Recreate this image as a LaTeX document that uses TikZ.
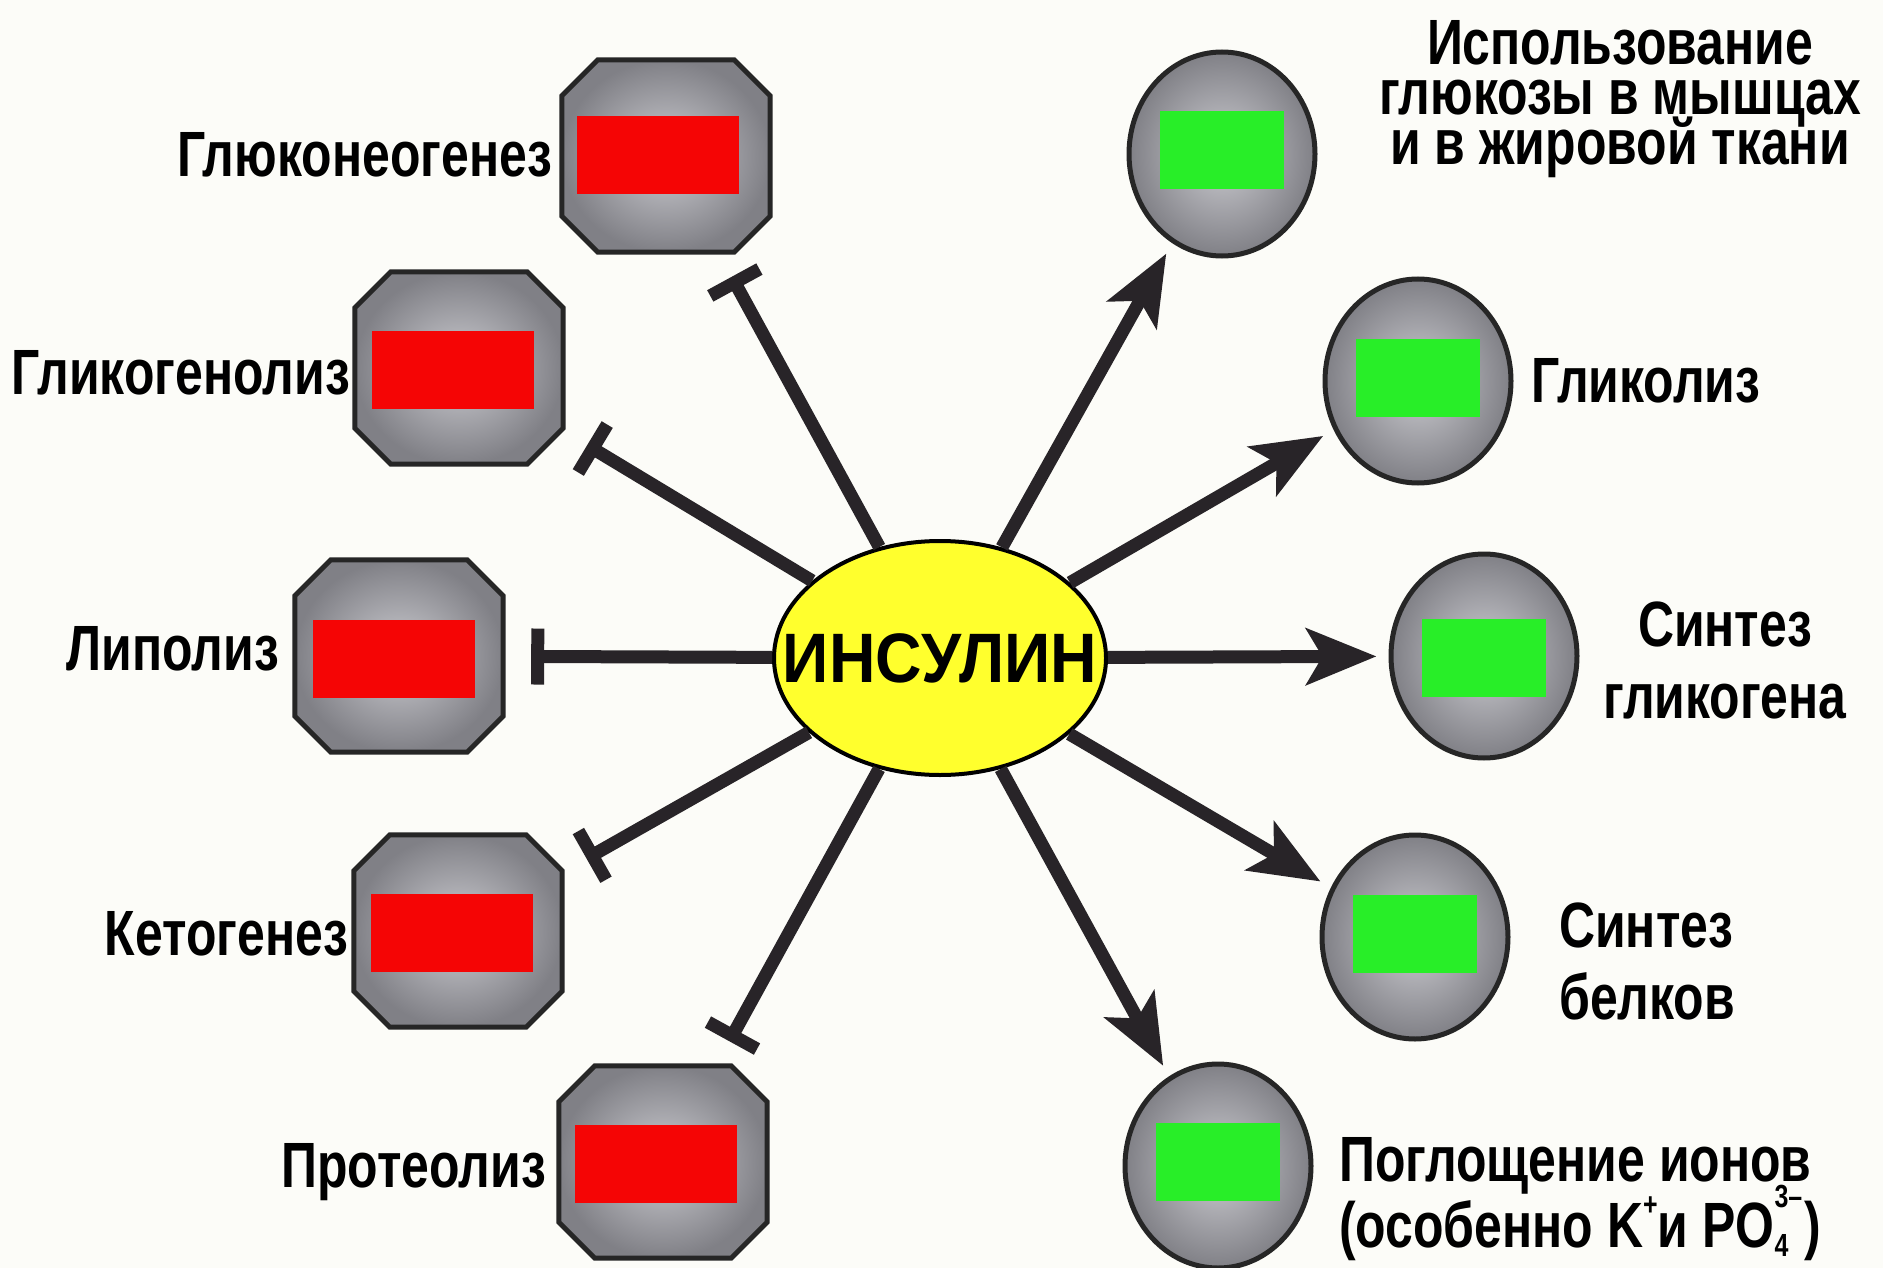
\documentclass[tikz,border=0pt]{standalone}
\usepackage{fontspec}
\usetikzlibrary{shapes.geometric,arrows.meta}
\newfontfamily\labfont{Liberation Sans}[FakeStretch=0.78]
\newfontfamily\insfont{Liberation Sans}[FakeStretch=0.92]
\definecolor{bgc}{RGB}{252,252,248}
\definecolor{lnc}{RGB}{40,36,40}
\definecolor{redc}{RGB}{245,5,5}
\definecolor{grnc}{RGB}{40,238,40}
\definecolor{yelc}{RGB}{255,255,45}
\definecolor{stoneA}{RGB}{205,205,210}
\definecolor{stoneB}{RGB}{128,128,134}
\newcommand\tightlines{\lineskiplimit=-60pt\relax}
\newcommand\octpath[1]{([xshift=36pt]#1.north west) -- ([xshift=-36pt]#1.north east)
  -- ([yshift=-36pt]#1.north east) -- ([yshift=36pt]#1.south east)
  -- ([xshift=-36pt]#1.south east) -- ([xshift=36pt]#1.south west)
  -- ([yshift=36pt]#1.south west) -- ([yshift=-36pt]#1.north west) -- cycle}
\begin{document}
\begin{tikzpicture}[x=1pt,y=-1pt,
 octa/.style={rectangle, minimum width=208pt, minimum height=192pt, inner sep=0pt},
 octdraw/.style={draw=black!85, line width=5pt, inner color=stoneA, outer color=stoneB},
 disc/.style={ellipse, minimum width=186pt, minimum height=204pt, inner sep=0pt, draw=black!85,
   line width=5pt, inner color=stoneA, outer color=stoneB},
 redbox/.style={rectangle, fill=redc, minimum width=162pt, minimum height=78pt, inner sep=0pt},
 grnbox/.style={rectangle, fill=grnc, minimum width=124pt, minimum height=78pt, inner sep=0pt},
 lab/.style={font=\labfont\bfseries\fontsize{64}{72}\selectfont, inner sep=0pt, text=black},
 inh/.style={draw=lnc, line width=13pt, -{Rectangle[length=13pt,width=56pt]}, shorten >=28pt},
 act/.style={draw=lnc, line width=13pt, -{Stealth[length=70pt,width=56pt,inset=16pt]}, shorten >=12pt},
]
\fill[bgc] (0,0) rectangle (1883,1268);
\useasboundingbox (0,0) rectangle (1883,1268);

% central node
\node[ellipse, draw=black, line width=4pt, fill=yelc, minimum width=332pt, minimum height=234pt,
  inner sep=0pt, font=\insfont\bfseries\fontsize{70}{72}\selectfont] (ins) at (940,658)
  {\makebox[0pt]{ИНСУЛИН}};

% left (inhibited) processes
\node[octa] (g1) at (666,156) {};
\node[octa] (g2) at (459,368) {};
\node[octa] (g3) at (399,656) {};
\node[octa] (g4) at (458,931) {};
\node[octa] (g5) at (663,1162) {};
\path[octdraw] \octpath{g1};
\path[octdraw] \octpath{g2};
\path[octdraw] \octpath{g3};
\path[octdraw] \octpath{g4};
\path[octdraw] \octpath{g5};
\node[redbox] (r1) at (658,155) {};
\node[redbox] (r2) at (453,370) {};
\node[redbox] (r3) at (394,659) {};
\node[redbox] (r4) at (452,933) {};
\node[redbox] (r5) at (656,1164) {};

% right (activated) processes
\node[disc] (c1) at (1222,154) {};
\node[disc] (c2) at (1418,381) {};
\node[disc] (c3) at (1484,656) {};
\node[disc] (c4) at (1415,937) {};
\node[disc] (c5) at (1218,1166) {};
\node[grnbox] (q1) at (1222,150) {};
\node[grnbox] (q2) at (1418,378) {};
\node[grnbox] (q3) at (1484,658) {};
\node[grnbox] (q4) at (1415,934) {};
\node[grnbox] (q5) at (1218,1162) {};

% labels
\node[lab, anchor=base east] (l1) at (552,177) {Глюконеогенез};
\node[lab, anchor=base east] (l2) at (350,394) {Гликогенолиз};
\node[lab, anchor=base east] (l3) at (279,670) {Липолиз};
\node[lab, anchor=base east] (l4) at (348,955) {Кетогенез};
\node[lab, anchor=base east] (l5) at (546,1187) {Протеолиз};
\node[lab, anchor=north, align=center,
  font=\labfont\bfseries\fontsize{64}{50}\selectfont\tightlines] (m1) at (1620,20)
  {Использование\\глюкозы в мышцах\\и в жировой ткани};
\node[lab, anchor=base west] (m2) at (1531,402) {Гликолиз};
\node[lab, anchor=north, align=center] (m3) at (1725,602) {Синтез\\гликогена};
\node[lab, anchor=north west, align=left] (m4) at (1559,903) {Синтез\\белков};
\node[lab, anchor=north west, align=left,
  font=\labfont\bfseries\fontsize{64}{66}\selectfont\tightlines] (m5) at (1339,1137)
  {Поглощение ионов\\(особенно K\raisebox{0.5em}{\fontsize{32}{32}\selectfont +}и
   PO\rlap{\raisebox{0.62em}{\fontsize{32}{32}\selectfont 3–}}\raisebox{-0.15em}{\fontsize{32}{32}\selectfont 4}\hspace{16pt})};

% connectors
\draw[inh] (ins) -- (g1);
\draw[inh] (ins) -- (g2);
\draw[inh] (ins) -- (g3);
\draw[inh] (ins) -- (g4);
\draw[inh] (ins) -- (g5);
\draw[act] (ins) -- (c1);
\draw[act] (ins) -- (c2);
\draw[act] (ins) -- (c3);
\draw[act] (ins) -- (c4);
\draw[act] (ins) -- (c5);
\end{tikzpicture}
\end{document}
